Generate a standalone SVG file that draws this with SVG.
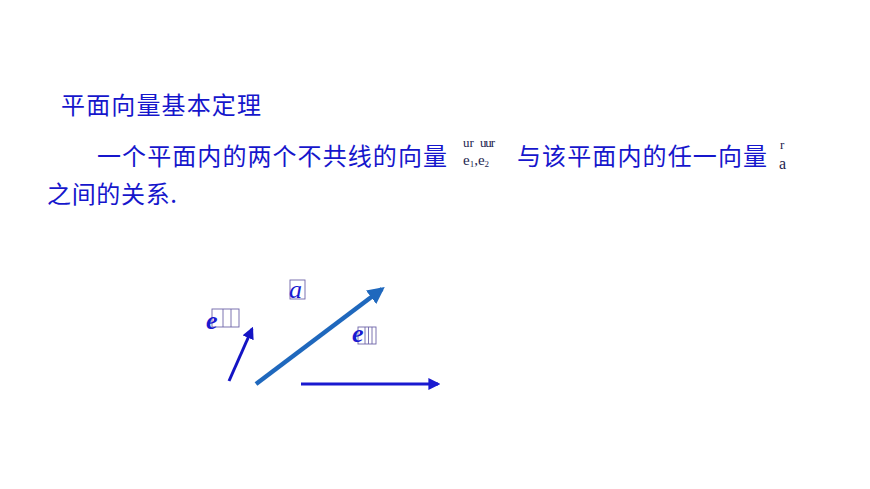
<svg xmlns="http://www.w3.org/2000/svg" width="870" height="489" viewBox="0 0 870 489">
<style>
.cn{font-family:"Noto Sans CJK SC","Noto Sans",sans-serif;font-size:24px;font-weight:normal;fill:#1616cc}
.sm{font-family:"Liberation Serif",serif;fill:#1e1e50}
.lbl{font-family:"Liberation Serif",serif;font-style:italic;fill:#1a1ad0;font-size:26px}
.box{fill:none;stroke:#6e64a8;stroke-width:0.9}
</style>
<defs>
<marker id="ah1" viewBox="0 0 10 10" refX="8" refY="5" markerWidth="4" markerHeight="4" orient="auto" markerUnits="strokeWidth"><path d="M0,0 L10,5 L0,10 z" fill="#1414c4"/></marker>
<marker id="ah2" viewBox="0 0 10 10" refX="8" refY="5" markerWidth="3.8" markerHeight="3.8" orient="auto" markerUnits="strokeWidth"><path d="M0,0 L10,5 L0,10 z" fill="#1f68bd"/></marker>
<marker id="ah3" viewBox="0 0 10 10" refX="8" refY="5" markerWidth="4" markerHeight="4" orient="auto" markerUnits="strokeWidth"><path d="M0,0 L10,5 L0,10 z" fill="#1a1ad0"/></marker>
</defs>
<rect width="870" height="489" fill="#ffffff"/>
<g id="title"><text class="cn" x="61" y="114" textLength="200">平面向量基本定理</text></g>
<g id="line2">
<text class="cn" x="97" y="165" textLength="350">一个平面内的两个不共线的向量</text>
<text class="sm" x="463" y="147" font-size="13">ur</text>
<text class="sm" x="480" y="147" font-size="13" textLength="15">uur</text>
<text class="sm" x="463" y="165" font-size="15">e<tspan font-size="9" dy="2">1</tspan><tspan dy="-2">,e</tspan><tspan font-size="9" dy="2">2</tspan></text>
<text class="cn" x="517" y="165" textLength="250">与该平面内的任一向量</text>
<text class="sm" x="780" y="149" font-size="13">r</text>
<text class="sm" x="779" y="169" font-size="16">a</text>
</g>
<g id="line3"><text class="cn" x="47" y="203" textLength="130">之间的关系.</text></g>
<g id="connectors">
<line x1="229" y1="381" x2="252" y2="329" stroke="#1414c4" stroke-width="3" marker-end="url(#ah1)"/>
<line x1="256" y1="384" x2="382" y2="289" stroke="#1f68bd" stroke-width="4.5" marker-end="url(#ah2)"/>
<line x1="301" y1="384" x2="438" y2="384" stroke="#1a1ad0" stroke-width="3" marker-end="url(#ah3)"/>
</g>
<g id="label-a">
<rect class="box" x="290" y="280" width="15" height="19"/>
<text class="lbl" x="289" y="298" font-size="29">a</text>
</g>
<g id="label-e1">
<rect class="box" x="212" y="309" width="27" height="18"/>
<line class="box" x1="223" y1="309" x2="223" y2="327"/>
<line class="box" x1="231" y1="309" x2="231" y2="327"/>
<text class="lbl" x="206" y="329" font-size="28" font-weight="bold">e</text>
</g>
<g id="label-e2">
<rect class="box" x="358" y="327" width="18" height="17"/>
<line class="box" x1="365" y1="327" x2="365" y2="344"/>
<line class="box" x1="368.5" y1="327" x2="368.5" y2="344"/>
<line class="box" x1="372" y1="327" x2="372" y2="344"/>
<text class="lbl" x="352" y="342" font-size="20" font-weight="bold">e</text>
</g>
</svg>
